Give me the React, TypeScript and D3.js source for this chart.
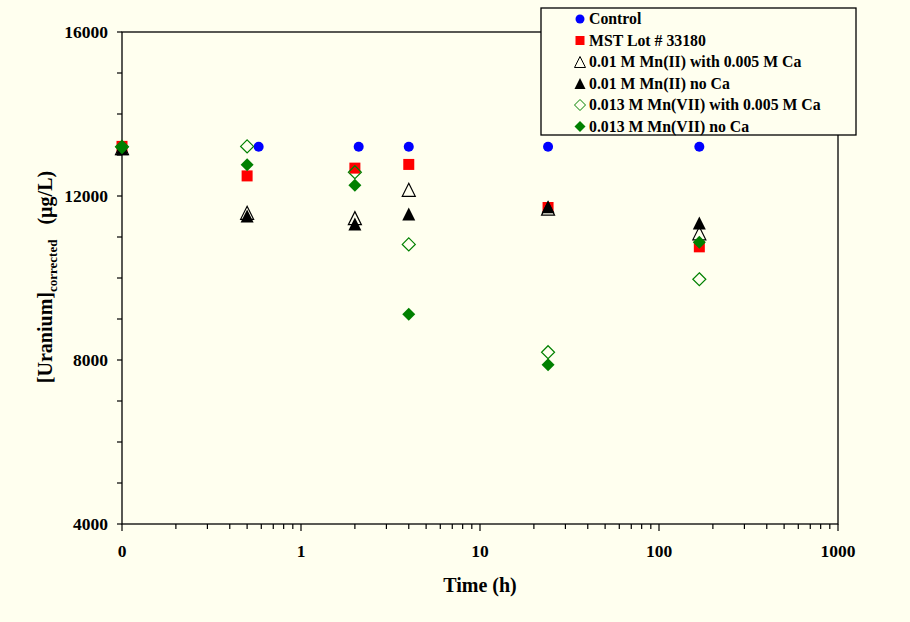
import React from "react";
import * as d3 from "d3";

// sampling times in hours; t = 0 sits on the left edge of the log axis (0.1)
const sampleTimes = [0, 0.5, 2, 4, 24, 168];
const controlTimes = [0, 0.58, 2.1, 4, 24, 168];

const controlU = [13200, 13200, 13200, 13200, 13200, 13200];
const mstU = [13210, 12490, 12680, 12770, 11720, 10760];
const mn2CaU = [13170, 11590, 11460, 12150, 11690, 11090];
const mn2NoCaU = [13150, 11510, 11320, 11560, 11740, 11340];
const mn7CaU = [13200, 13210, 12580, 10820, 8190, 9970];
const mn7NoCaU = [13190, 12760, 12260, 9115, 7885, 10870];

const seriesNames = [
  "Control",
  "MST Lot # 33180",
  "0.01 M Mn(II) with 0.005 M Ca",
  "0.01 M Mn(II) no Ca",
  "0.013 M Mn(VII) with 0.005 M Ca",
  "0.013 M Mn(VII) no Ca",
];

const xTickValues = [0.1, 1, 10, 100, 1000];
const xTickLabels = ["0", "1", "10", "100", "1000"];
const yTickValues = [4000, 8000, 12000, 16000];

const W = 910;
const H = 622;
const BG = "#FFFFEF";
const FONT = "'Liberation Serif', 'Times New Roman', serif";

const margin = { left: 122, right: 72, top: 32, bottom: 98 };

type Shape = "circle" | "square" | "triangle" | "diamond";

const series = [
  { name: seriesNames[0], t: controlTimes, v: controlU, shape: "circle" as Shape, fill: "#0000FF", stroke: "none" },
  { name: seriesNames[1], t: sampleTimes, v: mstU, shape: "square" as Shape, fill: "#FF0000", stroke: "none" },
  { name: seriesNames[2], t: sampleTimes, v: mn2CaU, shape: "triangle" as Shape, fill: "none", stroke: "#000000" },
  { name: seriesNames[3], t: sampleTimes, v: mn2NoCaU, shape: "triangle" as Shape, fill: "#000000", stroke: "none" },
  { name: seriesNames[4], t: sampleTimes, v: mn7CaU, shape: "diamond" as Shape, fill: "none", stroke: "#008000" },
  { name: seriesNames[5], t: sampleTimes, v: mn7NoCaU, shape: "diamond" as Shape, fill: "#008000", stroke: "none" },
];

function markerPath(shape: Shape, s: number): string {
  const h = s / 2;
  const p = d3.path();
  if (shape === "circle") {
    p.arc(0, 0, h, 0, Math.PI * 2);
  } else if (shape === "square") {
    p.rect(-h, -h, s, s);
  } else if (shape === "triangle") {
    p.moveTo(0, -h);
    p.lineTo(h, h);
    p.lineTo(-h, h);
    p.closePath();
  } else {
    p.moveTo(0, -h);
    p.lineTo(h, 0);
    p.lineTo(0, h);
    p.lineTo(-h, 0);
    p.closePath();
  }
  return p.toString();
}

const markerSize: Record<Shape, number> = { circle: 10, square: 11, triangle: 13, diamond: 13 };

export default function App() {
  const x = d3.scaleLog().domain([0.1, 1000]).range([margin.left, W - margin.right]);
  const y = d3.scaleLinear().domain([4000, 16000]).range([H - margin.bottom, margin.top]);
  const x0 = x.range()[0];
  const x1 = x.range()[1];
  const yb = y.range()[0];
  const yt = y.range()[1];

  const minorX = x.ticks().filter((d) => !xTickValues.includes(d));
  const minorY = d3.range(4000, 16001, 1000);

  const tx = (t: number) => x(Math.max(t, 0.1));

  return (
    <svg width={W} height={H} style={{ position: "absolute", left: 0, top: 0, background: BG }} fontFamily={FONT}>
      <rect x={0} y={0} width={W} height={H} fill={BG} />

      {/* plot frame */}
      <rect x={x0} y={yt} width={x1 - x0} height={yb - yt} fill="none" stroke="#000" strokeWidth={1.3} />

      {/* y ticks */}
      {minorY.map((d) => (
        <line key={"yt" + d} x1={x0 - 5} x2={x0} y1={y(d)} y2={y(d)} stroke="#000" strokeWidth={1.2} />
      ))}
      {yTickValues.map((d) => (
        <text key={"yl" + d} x={x0 - 14} y={y(d)} dy="0.34em" textAnchor="end" fontSize={17.5} fontWeight="bold">
          {d}
        </text>
      ))}

      {/* x ticks */}
      {minorX.map((d) => (
        <line key={"xm" + d} x1={x(d)} x2={x(d)} y1={yb} y2={yb + 5} stroke="#000" strokeWidth={1.2} />
      ))}
      {xTickValues.map((d, i) => (
        <g key={"xt" + d}>
          <line x1={x(d)} x2={x(d)} y1={yb} y2={yb + 7} stroke="#000" strokeWidth={1.2} />
          <text x={x(d)} y={yb + 27} dy="0.34em" textAnchor="middle" fontSize={17.5} fontWeight="bold">
            {xTickLabels[i]}
          </text>
        </g>
      ))}

      {/* axis titles */}
      <text x={(x0 + x1) / 2} y={592} textAnchor="middle" fontSize={20} fontWeight="bold">
        Time (h)
      </text>
      <text transform="translate(52,277) rotate(-90)" textAnchor="middle" fontSize={20} fontWeight="bold">
        [Uranium]
        <tspan fontSize={13} dy={5}>corrected</tspan>
        <tspan dy={-5}>{"\u00A0\u00A0\u00A0(\u00B5g/L)"}</tspan>
      </text>

      {/* data points */}
      {series.map((s) => (
        <g key={s.name}>
          {s.v.map((v, i) => (
            <path
              key={i}
              d={markerPath(s.shape, markerSize[s.shape])}
              transform={`translate(${tx(s.t[i])},${y(v)})`}
              fill={s.fill}
              stroke={s.stroke}
              strokeWidth={s.stroke === "none" ? 0 : 1.2}
            />
          ))}
        </g>
      ))}

      {/* legend */}
      <g>
        <rect x={541} y={8} width={315} height={127} fill={BG} stroke="#000" strokeWidth={1.3} />
        {series.map((s, i) => {
          const ly = 19 + i * 21.5;
          return (
            <g key={"lg" + i}>
              <path
                d={markerPath(s.shape, s.shape === "circle" ? 9 : s.shape === "square" ? 9 : 11)}
                transform={`translate(580,${ly})`}
                fill={s.fill}
                stroke={s.stroke}
                strokeWidth={s.stroke === "none" ? 0 : 1}
              />
              <text x={589} y={ly} dy="0.34em" fontSize={15.8} fontWeight="bold">
                {s.name}
              </text>
            </g>
          );
        })}
      </g>
    </svg>
  );
}
